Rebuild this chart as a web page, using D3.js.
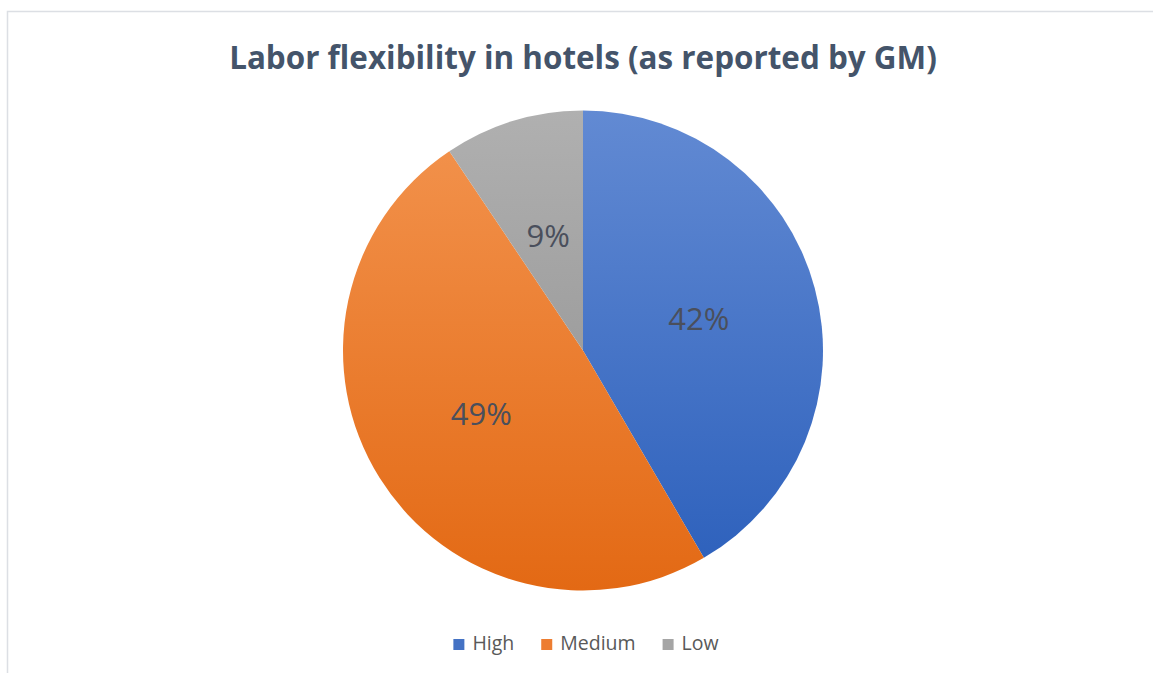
<!DOCTYPE html>
<html>
<head>
<meta charset="utf-8">
<script src="https://cdn.jsdelivr.net/npm/d3@7"></script>
<style>
  body { margin: 0; background: #fff; }
  svg { display: block; }
</style>
</head>
<body>
<div id="container"></div>
<script>
// data
const categories = ["High", "Medium", "Low"];
const shares = [41.6, 49.0, 9.4];
const labels = ["42%", "49%", "9%"];
const titleText = "Labor flexibility in hotels (as reported by GM)";

const width = 1153, height = 673;
const cx = 583, cy = 350.5, radius = 240;

// gradient stops per slice: [top, bottom]
const gradStops = [["#628ad3", "#2b5fbb"], ["#f3944f", "#e36914"], ["#b0b0b0", "#8c8c8c"]];
const legendColors = ["#4472c4", "#ed7d31", "#a5a5a5"];

const svg = d3.select("#container").append("svg")
  .attr("width", width)
  .attr("height", height);

// chart border (only top/left visible)
svg.append("rect")
  .attr("x", 7.5).attr("y", 11.5)
  .attr("width", 1170).attr("height", 700)
  .attr("fill", "none")
  .attr("stroke", "#dcdfe4")
  .attr("stroke-width", 1.5);

const defs = svg.append("defs");
gradStops.forEach((s, i) => {
  const g = defs.append("linearGradient")
    .attr("id", "grad" + i)
    .attr("gradientUnits", "userSpaceOnUse")
    .attr("x1", 0).attr("x2", 0)
    .attr("y1", -radius).attr("y2", radius);
  g.append("stop").attr("offset", "0%").attr("stop-color", s[0]);
  g.append("stop").attr("offset", "100%").attr("stop-color", s[1]);
});

// title
const title = svg.append("text")
  .attr("x", cx)
  .attr("y", 69)
  .attr("text-anchor", "middle")
  .style("font-family", "'Open Sans', sans-serif")
  .style("font-weight", "700")
  .style("font-size", "30px")
  .attr("fill", "#44546a")
  .text(titleText);
// fit title to the width seen in the picture
const tw = title.node().getComputedTextLength();
title.style("font-size", (30 * 708 / tw).toFixed(2) + "px");

// pie
const pie = d3.pie().sort(null).value(d => d);
const arcs = pie(shares);
const arcGen = d3.arc().innerRadius(0).outerRadius(radius);
const labelArc = d3.arc().innerRadius(radius * 0.5).outerRadius(radius * 0.5);

const g = svg.append("g").attr("transform", `translate(${cx},${cy})`);

g.selectAll(".slice")
  .data(arcs)
  .enter()
  .append("path")
    .attr("class", "slice")
    .attr("d", arcGen)
    .attr("fill", (d, i) => "url(#grad" + i + ")");

g.selectAll(".lbl")
  .data(arcs)
  .enter()
  .append("text")
    .attr("class", "lbl")
    .attr("transform", d => `translate(${labelArc.centroid(d)})`)
    .attr("text-anchor", "middle")
    .attr("dy", "0.36em")
    .style("font-family", "'Open Sans', sans-serif")
    .style("font-size", "31px")
    .attr("fill", "#4a4f5c")
    .text((d, i) => labels[i]);

// legend
const legend = svg.append("g");
let x = 0;
categories.forEach((c, i) => {
  const it = legend.append("g");
  it.append("rect")
    .attr("x", 0).attr("y", -11)
    .attr("width", 11).attr("height", 11)
    .attr("fill", legendColors[i]);
  const t = it.append("text")
    .attr("x", 19).attr("y", 0)
    .style("font-family", "'Open Sans', sans-serif")
    .style("font-size", "19.5px")
    .attr("fill", "#595959")
    .text(c);
  const w = 19 + t.node().getComputedTextLength();
  it.attr("transform", `translate(${x},0)`);
  x += w + 27;
});
const legendW = x - 27;
legend.attr("transform", `translate(${cx - legendW / 2 + 3},650)`);
</script>
</body>
</html>
